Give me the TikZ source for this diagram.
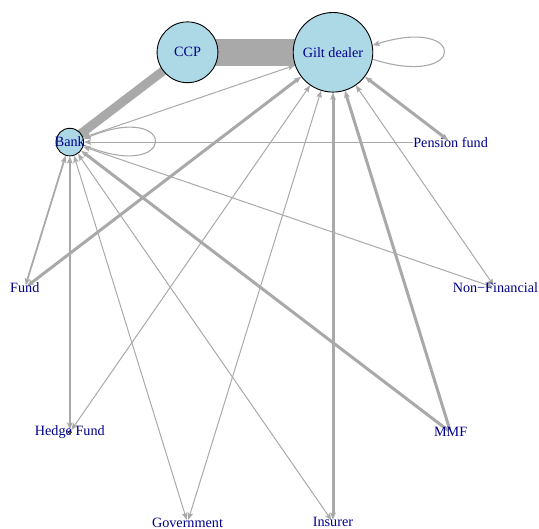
\documentclass[tikz,border=0pt]{standalone}
\usepackage{fontspec}
\setmainfont{Liberation Serif}
\usetikzlibrary{arrows.meta,backgrounds}
\definecolor{vfill}{HTML}{ADD8E6}
\definecolor{lblue}{HTML}{00008B}
\definecolor{egray}{HTML}{A9A9A9}
\tikzset{
  bignode/.style={circle, draw=black, line width=0.9pt, fill=vfill, inner sep=0pt},
  smallv/.style={circle, inner sep=0pt, minimum size=5pt},
  lbl/.style={inner sep=0pt, font=\fontsize{14.2}{16}\selectfont, text=lblue},
  ethin/.style={draw=egray, line width=1pt},
  emid/.style={draw=egray, line width=1.8pt},
  ethick/.style={draw=egray, line width=3pt},
  eloop/.style={draw=egray, line width=1.1pt},
  >={Stealth[length=7pt,width=5.5pt,inset=1.2pt]}
}
\begin{document}
\begin{tikzpicture}[x=1pt,y=1pt]
\useasboundingbox (0,0) rectangle (539,529);
% vertices
\node[bignode, minimum size=60.8pt] (ccp) at (187.5,476.7) {};
\node[bignode, minimum size=79.6pt] (gilt) at (333,476.7) {};
\node[bignode, minimum size=27.6pt] (bank) at (69.8,386.9) {};
\node[smallv] (pf) at (450.6,386.9) {};
\node[smallv] (fund) at (24.8,241.1) {};
\node[smallv] (nf) at (495.4,241.1) {};
\node[smallv] (hf) at (69.8,96.7) {};
\node[smallv] (mmf) at (450.6,96.7) {};
\node[smallv] (gov) at (187.5,6.6) {};
\node[smallv] (ins) at (333,6.6) {};
\node[circle, draw=black, fill=vfill, inner sep=0pt, minimum size=3pt, line width=0.7pt] (hfdot) at (hf) {};
% labels
\node[lbl] (ccpl) at (ccp) {CCP};
\node[lbl] (giltl) at (gilt) {Gilt dealer};
\node[lbl] (bankl) at (bank) {Bank};
\node[lbl] (pfl) at (pf) {Pension fund};
\node[lbl] (fundl) at (fund) {Fund};
\node[lbl] (nfl) at (nf) {Non−Financial};
\node[lbl] (hfl) at (hf) {Hedge Fund};
\node[lbl] (mmfl) at (mmf) {MMF};
\node[lbl] (govl) at (gov) {Government};
\node[lbl] (insl) at (ins) {Insurer};
% edges
\begin{scope}[on background layer]
\draw[egray, line width=27pt] (ccp.center) -- (gilt.center);
\draw[egray, line width=9pt] (ccp.center) -- (bank.center);
\draw[eloop,->] (gilt.-10) .. controls +(95,-30) and +(95,30) .. (gilt.10);
\draw[eloop,->] (bank.-12) .. controls +(95,-40) and +(95,40) .. (bank.12);
\draw[ethin,<->] (bank) -- (gilt);
\draw[ethin,->] (pfl.west) -- (bank);
\draw[ethick,<->] (gilt) -- (pf);
\draw[ethin,<->] (gilt) -- (nf);
\draw[ethin,<->] (bank) -- (nf);
\draw[emid,<->] (bank) -- (fund);
\draw[ethick,<->] (gilt) -- (fund);
\draw[emid,<->] (bank) -- (hf);
\draw[ethin,<->] (gilt) -- (hf);
\draw[ethin,<->] (bank) -- (gov);
\draw[ethin,<->] (gilt) -- (gov);
\draw[ethin,<->] (bank) -- (ins);
\draw[ethick,<->] (gilt) -- (ins);
\draw[ethick,<-] (bank) -- (mmf);
\draw[ethick,<-] (gilt) -- (mmf);
\end{scope}
\end{tikzpicture}
\end{document}
